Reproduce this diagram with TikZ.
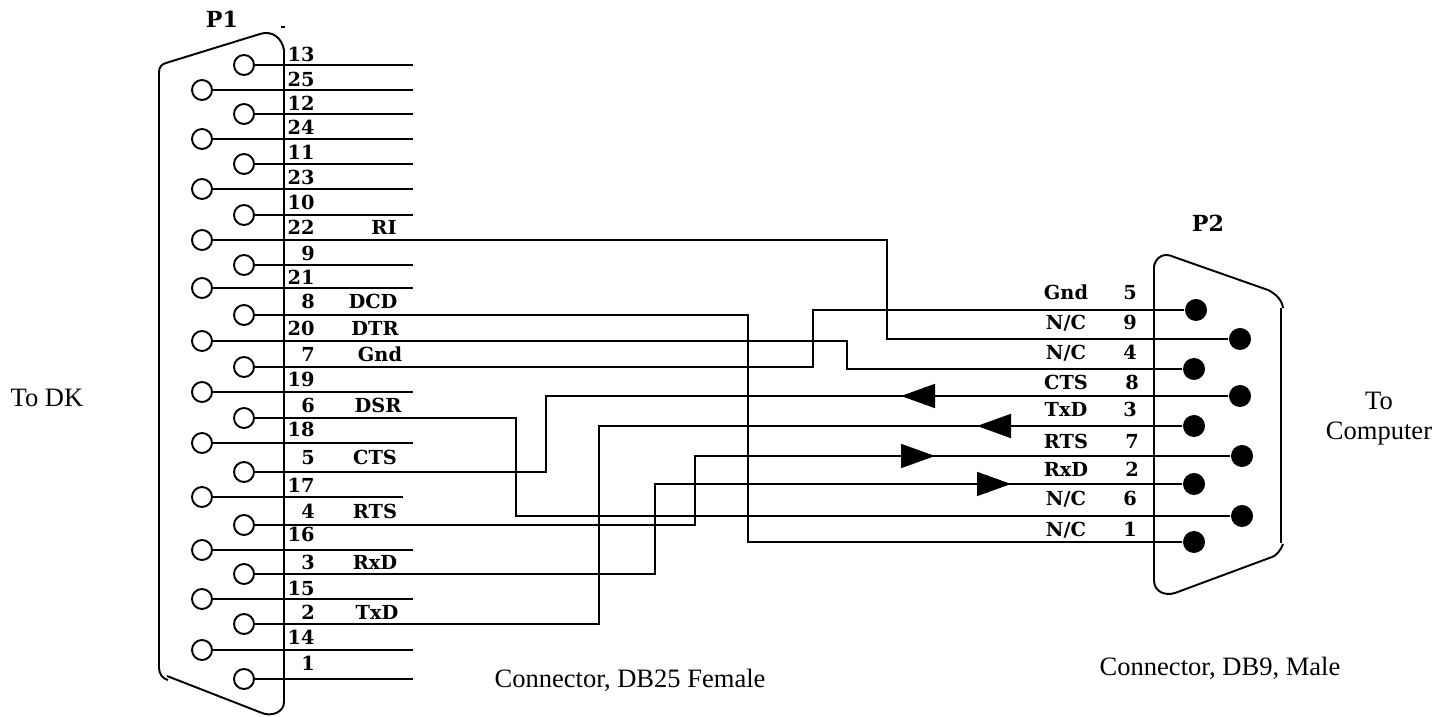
\documentclass[tikz,border=0pt]{standalone}
\usepackage{fontspec}
\setmainfont{Liberation Serif}
\newfontfamily\pinfont{DejaVu Serif}
\usetikzlibrary{arrows.meta}
\tikzset{
  wire/.style={line width=0.5pt},
  shell/.style={line width=0.55pt},
  holepin/.style={circle,draw,fill=white,line width=0.55pt,minimum size=0.2cm,inner sep=0pt},
  dotpin/.style={circle,fill=black,minimum size=0.22cm,inner sep=0pt},
  pinlabel/.style={anchor=base,inner sep=0pt,font=\pinfont\bfseries\fontsize{5.5}{6}\selectfont},
  conlabel/.style={anchor=base,inner sep=0pt,font=\pinfont\bfseries\fontsize{6.3}{7}\selectfont},
  plainlabel/.style={inner sep=0pt,font=\fontsize{7.55}{8.5}\selectfont},
  bigtip/.style={-{Triangle[length=0.34cm,width=0.24cm]}}
}
\begin{document}
\begin{tikzpicture}[y=-1cm]
\useasboundingbox (0,0) rectangle (14.47,7.17);
\draw[shell] (2.84,.5) .. controls (2.82,.38) and (2.72,.3) .. (2.6,.34) -- (1.66,.63) .. controls (1.62,.64) and (1.59,.67) .. (1.59,.72) -- (1.59,6.68) .. controls (1.59,6.74) and (1.63,6.79) .. (1.68,6.8);
\draw[shell] (1.67,6.76) -- (2.62,7.13) .. controls (2.72,7.17) and (2.84,7.12) .. (2.84,7.02) -- (2.84,.5);
\draw[shell] (2.81,.27) -- (2.85,.27);
\draw[shell] (11.54,2.66) .. controls (11.56,2.57) and (11.64,2.52) .. (11.74,2.57) -- (12.68,2.9) .. controls (12.76,2.94) and (12.82,3) .. (12.83,3.08);
\draw[shell] (12.81,3.08) -- (12.81,5.43);
\draw[shell] (12.83,5.44) .. controls (12.81,5.5) and (12.76,5.56) .. (12.72,5.57) -- (11.75,5.93) .. controls (11.65,5.96) and (11.54,5.92) .. (11.54,5.8) -- (11.54,2.66);
\foreach \n/\x/\y/\lx/\b in {13/2.44/.65/3.01/.62,25/2.02/.90/3.01/.87,12/2.44/1.14/3.01/1.11,24/2.02/1.39/3.01/1.35,
  11/2.44/1.64/3.01/1.60,23/2.02/1.89/3.01/1.85,10/2.44/2.15/3.01/2.10,22/2.02/2.40/3.01/2.35,
  9/2.44/2.65/3.08/2.61,21/2.02/2.88/3.01/2.85,8/2.44/3.15/3.08/3.09,20/2.02/3.41/3.01/3.36,
  7/2.44/3.67/3.08/3.62,19/2.02/3.92/3.01/3.87,6/2.44/4.18/3.08/4.13,18/2.02/4.43/3.01/4.37,
  5/2.44/4.72/3.08/4.65,17/2.02/4.97/3.01/4.93,4/2.44/5.25/3.08/5.19,16/2.02/5.50/3.01/5.42,
  3/2.44/5.74/3.08/5.70,15/2.02/5.99/3.01/5.96,2/2.44/6.24/3.08/6.20,14/2.02/6.50/3.01/6.44,1/2.44/6.79/3.08/6.71}
  {
  \node[holepin] (p\n) at (\x,\y) {};
  \coordinate (y\n) at (0,\y);
  \node[pinlabel] (n\n) at (\lx,\b) {\n};
  }
\foreach \n/\e in {13/4.13,25/4.13,12/4.13,24/4.13,11/4.13,23/4.13,10/4.13,9/4.13,21/4.13,19/4.13,18/4.13,
  17/4.03,16/4.13,15/4.13,14/4.13,1/4.13}
  {
  \coordinate (e\n) at (\e,0 |- y\n);
  \draw[wire] (p\n) -- (e\n);
  }
\foreach \n/\x/\y/\lx/\b/\s in {5/11.96/3.10/11.30/3.00/Gnd,9/12.40/3.39/11.30/3.30/N\slash C,4/11.94/3.69/11.30/3.60/N\slash C,
  8/12.40/3.96/11.32/3.90/CTS,3/11.94/4.26/11.30/4.17/TxD,7/12.42/4.56/11.32/4.49/RTS,
  2/11.94/4.84/11.32/4.77/RxD,6/12.42/5.16/11.30/5.06/N\slash C,1/11.94/5.42/11.30/5.37/N\slash C}
  {
  \node[dotpin] (d\n) at (\x,\y) {};
  \node[pinlabel] (q\n) at (\lx,\b) {\n};
  \node[pinlabel] (r\n) at (10.66,\b) {\s};
  }
\foreach \n/\x/\b/\s in {22/3.84/2.35/RI,8/3.73/3.09/DCD,20/3.75/3.36/DTR,7/3.80/3.62/Gnd,6/3.78/4.13/DSR,
  5/3.75/4.65/CTS,4/3.75/5.19/RTS,3/3.75/5.70/RxD,2/3.77/6.20/TxD}
  \node[pinlabel] (s\n) at (\x,\b) {\s};
\node[conlabel] (pa) at (2.22,.28) {P1};
\node[conlabel] (pb) at (12.08,2.32) {P2};
\node[plainlabel] (todk) at (.47,3.98) {To DK};
\node[plainlabel,align=center] (tocomp) at (13.79,4.19) {To\\Computer};
\node[plainlabel] (conna) at (6.30,6.80) {Connector, DB25 Female};
\node[plainlabel] (connb) at (12.20,6.68) {Connector, DB9, Male};
\coordinate (c22) at (8.87,3.39);
\coordinate (c8) at (7.48,5.42);
\coordinate (c20) at (8.47,3.69);
\coordinate (c7) at (8.13,3.10);
\coordinate (c6) at (5.16,5.16);
\coordinate (c5) at (5.46,3.96);
\coordinate (c4) at (6.95,4.56);
\coordinate (c3) at (6.55,4.84);
\coordinate (c2) at (5.99,4.26);
\draw[wire] (p22) -| (c22) |- (d9);
\draw[wire] (p8) -| (c8) |- (d1);
\draw[wire] (p20) -| (c20) |- (d4);
\draw[wire] (p7) -| (c7) |- (d5);
\draw[wire] (p6) -| (c6) |- (d6);
\draw[wire] (p5) -| (c5) |- (d8);
\draw[wire] (p4) -| (c4) |- (d7);
\draw[wire] (p3) -| (c3) |- (d2);
\draw[wire] (p2) -| (c2) |- (d3);
\coordinate (t8) at (9.01,3.96);
\coordinate (t3) at (9.77,4.26);
\coordinate (t7) at (9.35,4.56);
\coordinate (t2) at (10.11,4.84);
\draw[wire,bigtip] (d8) -- (t8);
\draw[wire,bigtip] (d3) -- (t3);
\draw[wire,bigtip] (c4 |- t7) -- (t7);
\draw[wire,bigtip] (c3 |- t2) -- (t2);
\end{tikzpicture}
\end{document}
